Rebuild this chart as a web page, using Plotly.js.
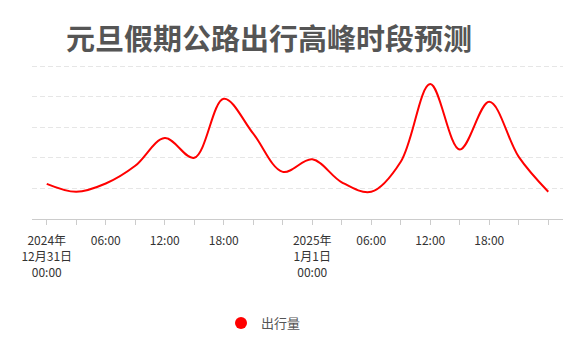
<!DOCTYPE html>
<html>
<head>
<meta charset="utf-8">
<script src="https://cdn.plot.ly/plotly-3.0.1.min.js"></script>
<style>
  html, body { margin: 0; padding: 0; background: #fff; }
  #chart { width: 586px; height: 358px; }
</style>
</head>
<body>
<div id="chart"></div>
<script>
// Time slots (category axis)
const categories = [
  "12-31 00:00", "12-31 03:00", "12-31 06:00", "12-31 09:00", "12-31 12:00",
  "12-31 15:00", "12-31 18:00", "12-31 21:00", "12-31 23:00",
  "01-01 00:00", "01-01 03:00", "01-01 06:00", "01-01 09:00", "01-01 12:00",
  "01-01 15:00", "01-01 18:00", "01-01 21:00", "01-01 23:00"
];
// Traffic volume (relative index)
const traffic = [23.0, 17.8, 23.2, 34.8, 53.0, 40.0, 78.6, 55.8, 30.8,
                 39.0, 24.0, 17.8, 37.4, 88.2, 45.4, 76.6, 40.6, 17.8];
// Tick labels shown under the axis ('' = tick without label)
const tickLabels = [
  "2024年<br>12月31日<br>00:00", "", "06:00", "", "12:00", "", "18:00", "", "",
  "2025年<br>1月1日<br>00:00", "", "06:00", "", "12:00", "", "18:00", "", ""
];
const seriesName = "出行量";
const titleText = "元旦假期公路出行高峰时段预测";

const font = "'Noto Sans CJK SC', 'Noto Sans', sans-serif";

const traces = [
  {
    type: "scatter",
    mode: "lines",
    x: categories,
    y: traffic,
    name: seriesName,
    showlegend: false,
    line: { color: "#ff0000", width: 2, shape: "spline", smoothing: 1 },
    hoverinfo: "x+y"
  },
  {
    type: "scatter",
    mode: "markers",
    x: [null],
    y: [null],
    name: seriesName,
    showlegend: true,
    marker: { color: "#ff0000", size: 12, symbol: "circle" }
  }
];

const layout = {
  width: 586,
  height: 358,
  margin: { l: 32, r: 23, t: 63, b: 139 },
  paper_bgcolor: "#ffffff",
  plot_bgcolor: "#ffffff",
  font: { family: font, color: "#333" },
  title: {
    text: titleText,
    font: { family: font, size: 29, color: "#555555", weight: "bold" },
    x: 66 / 586, xref: "container", xanchor: "left",
    y: 1 - 40 / 358, yref: "container", yanchor: "middle"
  },
  xaxis: {
    type: "category",
    range: [-0.5, categories.length - 0.5],
    tickmode: "array",
    tickvals: categories,
    ticktext: tickLabels,
    showline: true,
    linecolor: "#cccccc",
    linewidth: 1,
    ticks: "outside",
    ticklen: 5,
    tickcolor: "#cccccc",
    ticklabelstandoff: 6,
    showgrid: false,
    zeroline: false,
    tickangle: 0,
    tickfont: { family: font, size: 12, color: "#333333" },
    fixedrange: true
  },
  yaxis: {
    range: [0, 102],
    dtick: 20,
    tick0: 0,
    showticklabels: false,
    showline: false,
    zeroline: false,
    showgrid: true,
    gridcolor: "#e6e6e6",
    gridwidth: 1,
    griddash: "5px,3px",
    ticks: "",
    fixedrange: true
  },
  showlegend: true,
  legend: {
    orientation: "h",
    xref: "container", yref: "container",
    x: 221 / 586, xanchor: "left",
    y: 1 - 323 / 358, yanchor: "middle",
    font: { family: font, size: 13, color: "#555555" },
    bgcolor: "rgba(0,0,0,0)"
  }
};

Plotly.newPlot("chart", traces, layout, { displayModeBar: false });
</script>
</body>
</html>
